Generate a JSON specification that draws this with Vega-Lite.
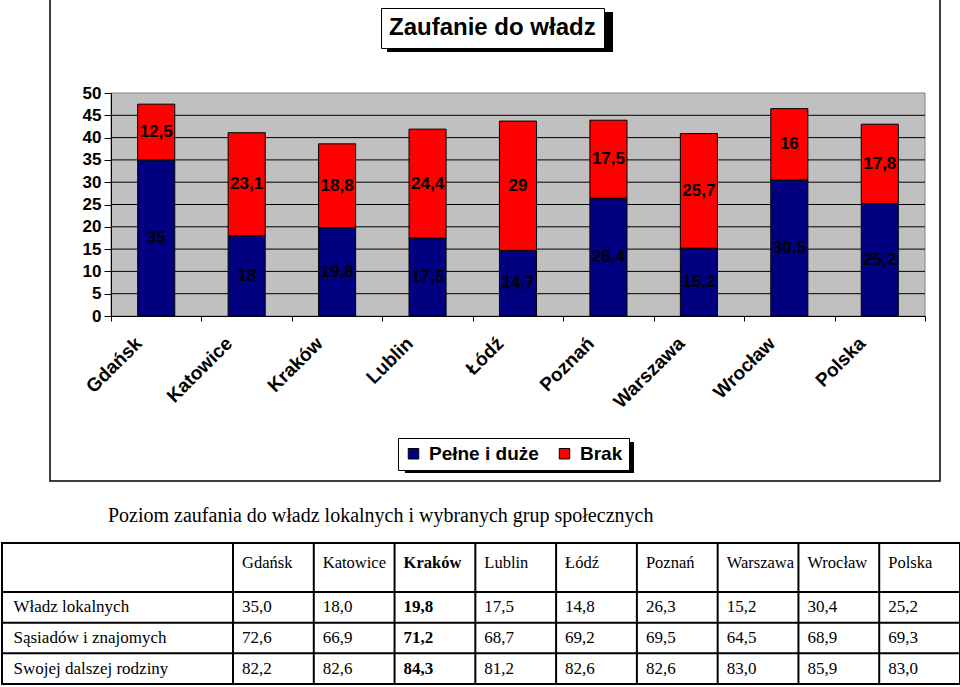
{
  "$schema": "https://vega.github.io/schema/vega-lite/v6.json",
  "padding": {"left": 0, "top": -2, "right": 0, "bottom": 0},
  "background": "white",
  "spacing": 23,
  "config": {
    "font": "Liberation Sans",
    "locale": {"number": {"decimal": ",", "thousands": " ", "grouping": [3], "currency": ["", " zł"]}},
    "view": {"stroke": null}
  },
  "datasets": {
    "bars": [
      {"city": "Gdańsk", "series": "Pełne i duże", "value": 35},
      {"city": "Gdańsk", "series": "Brak", "value": 12.5},
      {"city": "Katowice", "series": "Pełne i duże", "value": 18},
      {"city": "Katowice", "series": "Brak", "value": 23.1},
      {"city": "Kraków", "series": "Pełne i duże", "value": 19.8},
      {"city": "Kraków", "series": "Brak", "value": 18.8},
      {"city": "Lublin", "series": "Pełne i duże", "value": 17.5},
      {"city": "Lublin", "series": "Brak", "value": 24.4},
      {"city": "Łódź", "series": "Pełne i duże", "value": 14.7},
      {"city": "Łódź", "series": "Brak", "value": 29},
      {"city": "Poznań", "series": "Pełne i duże", "value": 26.4},
      {"city": "Poznań", "series": "Brak", "value": 17.5},
      {"city": "Warszawa", "series": "Pełne i duże", "value": 15.2},
      {"city": "Warszawa", "series": "Brak", "value": 25.7},
      {"city": "Wrocław", "series": "Pełne i duże", "value": 30.5},
      {"city": "Wrocław", "series": "Brak", "value": 16},
      {"city": "Polska", "series": "Pełne i duże", "value": 25.2},
      {"city": "Polska", "series": "Brak", "value": 17.8}
    ],
    "grid": [{"v": 5}, {"v": 10}, {"v": 15}, {"v": 20}, {"v": 25}, {"v": 30}, {"v": 35}, {"v": 40}, {"v": 45}],
    "table": [
      {"group": "Władz lokalnych", "city": "Gdańsk", "value": 35.0},
      {"group": "Władz lokalnych", "city": "Katowice", "value": 18.0},
      {"group": "Władz lokalnych", "city": "Kraków", "value": 19.8},
      {"group": "Władz lokalnych", "city": "Lublin", "value": 17.5},
      {"group": "Władz lokalnych", "city": "Łódź", "value": 14.8},
      {"group": "Władz lokalnych", "city": "Poznań", "value": 26.3},
      {"group": "Władz lokalnych", "city": "Warszawa", "value": 15.2},
      {"group": "Władz lokalnych", "city": "Wrocław", "value": 30.4},
      {"group": "Władz lokalnych", "city": "Polska", "value": 25.2},
      {"group": "Sąsiadów i znajomych", "city": "Gdańsk", "value": 72.6},
      {"group": "Sąsiadów i znajomych", "city": "Katowice", "value": 66.9},
      {"group": "Sąsiadów i znajomych", "city": "Kraków", "value": 71.2},
      {"group": "Sąsiadów i znajomych", "city": "Lublin", "value": 68.7},
      {"group": "Sąsiadów i znajomych", "city": "Łódź", "value": 69.2},
      {"group": "Sąsiadów i znajomych", "city": "Poznań", "value": 69.5},
      {"group": "Sąsiadów i znajomych", "city": "Warszawa", "value": 64.5},
      {"group": "Sąsiadów i znajomych", "city": "Wrocław", "value": 68.9},
      {"group": "Sąsiadów i znajomych", "city": "Polska", "value": 69.3},
      {"group": "Swojej dalszej rodziny", "city": "Gdańsk", "value": 82.2},
      {"group": "Swojej dalszej rodziny", "city": "Katowice", "value": 82.6},
      {"group": "Swojej dalszej rodziny", "city": "Kraków", "value": 84.3},
      {"group": "Swojej dalszej rodziny", "city": "Lublin", "value": 81.2},
      {"group": "Swojej dalszej rodziny", "city": "Łódź", "value": 82.6},
      {"group": "Swojej dalszej rodziny", "city": "Poznań", "value": 82.6},
      {"group": "Swojej dalszej rodziny", "city": "Warszawa", "value": 83.0},
      {"group": "Swojej dalszej rodziny", "city": "Wrocław", "value": 85.9},
      {"group": "Swojej dalszej rodziny", "city": "Polska", "value": 83.0}
    ]
  },
  "vconcat": [
    {
      "spacing": 0,
      "hconcat": [
        {
          "width": 40, "height": 480,
          "data": {"values": []},
          "mark": "point",
          "view": {"stroke": null, "fill": "white"}
        },
        {
          "width": 890, "height": 482,
          "view": {"stroke": "black", "strokeWidth": 1.5},
          "resolve": {"scale": {"x": "independent"}},
          "layer": [
            {
              "data": {"values": [{}]},
              "mark": {"type": "rect", "fill": "#c0c0c0", "stroke": "#808080", "strokeWidth": 1},
              "encoding": {
                "x": {"datum": 0, "type": "quantitative", "scale": {"domain": [0, 1], "range": [61, 875]}, "axis": null},
                "x2": {"datum": 1},
                "y": {
                  "datum": 0, "type": "quantitative",
                  "scale": {"domain": [0, 50], "range": [317, 94], "nice": false},
                  "axis": {
                    "orient": "left", "offset": -61, "title": null, "values": [0, 5, 10, 15, 20, 25, 30, 35, 40, 45, 50],
                    "tickSize": 7, "tickColor": "black", "domainColor": "black", "grid": false, "zindex": 1,
                    "labelPadding": 3, "labelFont": "Liberation Sans", "labelFontSize": 17, "labelFontWeight": "bold", "labelColor": "black"
                  }
                },
                "y2": {"datum": 50}
              }
            },
            {
              "data": {"values": [{}]},
              "mark": {"type": "point", "filled": true, "opacity": 0, "color": "black"},
              "encoding": {
                "x": {"datum": 0, "type": "quantitative", "scale": {"domain": [0, 1], "range": [61, 875]}, "axis": null},
                "y": {
                  "datum": 0, "type": "quantitative",
                  "scale": {"domain": [0, 50], "range": [317, 94], "nice": false},
                  "axis": {
                    "orient": "left", "offset": -61, "title": null, "values": [0, 5, 10, 15, 20, 25, 30, 35, 40, 45, 50],
                    "tickSize": 7, "tickColor": "black", "domainColor": "black", "grid": false, "zindex": 1,
                    "labelPadding": 3, "labelFont": "Liberation Sans", "labelFontSize": 17, "labelFontWeight": "bold", "labelColor": "black"
                  }
                },
                "fill": {
                  "datum": "cień tytułu",
                  "scale": {"range": ["black"]},
                  "legend": {
                    "orient": "none", "legendX": 385, "legendY": 13, "title": null, "zindex": 0,
                    "symbolType": "M-1,-0.177H1V0.177H-1Z", "symbolSize": 51076, "clipHeight": 40,
                    "symbolOpacity": 1, "symbolStrokeWidth": 0, "symbolOffset": 0,
                    "labelExpr": "''", "labelFontSize": 1, "labelOffset": 0, "padding": 0
                  }
                },
                "stroke": {
                  "datum": "cień legendy",
                  "scale": {"range": ["black"]},
                  "legend": {
                    "orient": "none", "legendX": 403, "legendY": 443, "title": null, "zindex": 0,
                    "symbolType": "M-1,-0.1354H1V0.1354H-1Z", "symbolSize": 52441, "clipHeight": 31,
                    "symbolOpacity": 1, "symbolStrokeWidth": 0, "symbolFillColor": "black", "symbolOffset": 0,
                    "labelExpr": "''", "labelFontSize": 1, "labelOffset": 0, "padding": 0
                  }
                }
              }
            },
            {
              "data": {"values": [{}]},
              "mark": {"type": "point", "opacity": 0},
              "encoding": {
                "x": {"datum": 0, "type": "quantitative", "scale": {"domain": [0, 1], "range": [61, 875]}, "axis": null},
                "y": {
                  "datum": 0, "type": "quantitative",
                  "scale": {"domain": [0, 50], "range": [317, 94], "nice": false},
                  "axis": {
                    "orient": "left", "offset": -61, "title": null, "values": [0, 5, 10, 15, 20, 25, 30, 35, 40, 45, 50],
                    "tickSize": 7, "tickColor": "black", "domainColor": "black", "grid": false, "zindex": 1,
                    "labelPadding": 3, "labelFont": "Liberation Sans", "labelFontSize": 17, "labelFontWeight": "bold", "labelColor": "black"
                  }
                },
                "shape": {
                  "datum": "Zaufanie do władz",
                  "legend": {
                    "orient": "none", "legendX": 379, "legendY": 9, "title": null, "zindex": 1,
                    "symbolSize": 1, "symbolOpacity": 0, "symbolStrokeWidth": 0, "labelOffset": -24, "labelLimit": 500,
                    "labelFont": "Liberation Sans", "labelFontSize": 24, "labelFontWeight": "bold", "labelColor": "black",
                    "padding": 8, "strokeColor": "black", "fillColor": "white"
                  }
                }
              }
            },
            {
              "data": {"name": "grid"},
              "mark": {"type": "rule", "color": "black", "strokeWidth": 1},
              "encoding": {
                "x": {"datum": 0, "type": "quantitative", "scale": {"domain": [0, 1], "range": [61, 875]}, "axis": null},
                "x2": {"datum": 1},
                "y": {
                  "field": "v", "type": "quantitative",
                  "scale": {"domain": [0, 50], "range": [317, 94], "nice": false},
                  "axis": {
                    "orient": "left", "offset": -61, "title": null, "values": [0, 5, 10, 15, 20, 25, 30, 35, 40, 45, 50],
                    "tickSize": 7, "tickColor": "black", "domainColor": "black", "grid": false, "zindex": 1,
                    "labelPadding": 3, "labelFont": "Liberation Sans", "labelFontSize": 17, "labelFontWeight": "bold", "labelColor": "black"
                  }
                }
              }
            },
            {
              "data": {"name": "bars"},
              "transform": [
                {"stack": "value", "groupby": ["city"], "sort": [{"field": "series", "order": "descending"}], "as": ["v0", "v1"]}
              ],
              "mark": {"type": "bar", "width": {"band": 0.41}, "stroke": "black", "strokeWidth": 1},
              "encoding": {
                "x": {
                  "field": "city", "type": "nominal",
                  "scale": {"type": "band", "domain": ["Gdańsk", "Katowice", "Kraków", "Lublin", "Łódź", "Poznań", "Warszawa", "Wrocław", "Polska"], "range": [61, 875], "paddingInner": 0, "paddingOuter": 0},
                  "axis": {
                    "orient": "bottom", "offset": -165, "title": null, "tickBand": "extent", "tickSize": 5,
                    "tickColor": "black", "domainColor": "black", "grid": false, "zindex": 1,
                    "labelAngle": -45, "labelAlign": "right", "labelBaseline": "middle", "labelPadding": 19, "labelOffset": -18,
                    "labelFont": "Liberation Sans", "labelFontSize": 19, "labelFontWeight": "bold", "labelColor": "black", "labelOverlap": false
                  }
                },
                "y": {
                  "field": "v0", "type": "quantitative",
                  "scale": {"domain": [0, 50], "range": [317, 94], "nice": false},
                  "axis": {
                    "orient": "left", "offset": -61, "title": null, "values": [0, 5, 10, 15, 20, 25, 30, 35, 40, 45, 50],
                    "tickSize": 7, "tickColor": "black", "domainColor": "black", "grid": false, "zindex": 1,
                    "labelPadding": 3, "labelFont": "Liberation Sans", "labelFontSize": 17, "labelFontWeight": "bold", "labelColor": "black"
                  }
                },
                "y2": {"field": "v1"},
                "color": {
                  "field": "series", "type": "nominal",
                  "scale": {"domain": ["Pełne i duże", "Brak"], "range": ["#000080", "#ff0000"]},
                  "legend": {
                    "orient": "none", "legendX": 396, "legendY": 439, "direction": "horizontal", "title": null, "zindex": 1,
                    "symbolType": "square", "symbolSize": 110, "symbolStrokeColor": "black", "symbolStrokeWidth": 1,
                    "labelFont": "Liberation Sans", "labelFontSize": 19, "labelFontWeight": "bold", "labelColor": "black",
                    "labelOffset": 6, "columnPadding": 16, "padding": 6, "strokeColor": "black", "fillColor": "white"
                  }
                }
              }
            },
            {
              "data": {"name": "bars"},
              "transform": [
                {"stack": "value", "groupby": ["city"], "sort": [{"field": "series", "order": "descending"}], "as": ["v0", "v1"]},
                {"calculate": "(datum.v0 + datum.v1) / 2", "as": "mid"}
              ],
              "mark": {"type": "text", "font": "Liberation Sans", "fontSize": 17, "fontWeight": "bold", "color": "black", "baseline": "middle"},
              "encoding": {
                "x": {
                  "field": "city", "type": "nominal",
                  "scale": {"type": "band", "domain": ["Gdańsk", "Katowice", "Kraków", "Lublin", "Łódź", "Poznań", "Warszawa", "Wrocław", "Polska"], "range": [61, 875], "paddingInner": 0, "paddingOuter": 0},
                  "axis": null
                },
                "y": {
                  "field": "mid", "type": "quantitative",
                  "scale": {"domain": [0, 50], "range": [317, 94], "nice": false},
                  "axis": {
                    "orient": "left", "offset": -61, "title": null, "values": [0, 5, 10, 15, 20, 25, 30, 35, 40, 45, 50],
                    "tickSize": 7, "tickColor": "black", "domainColor": "black", "grid": false, "zindex": 1,
                    "labelPadding": 3, "labelFont": "Liberation Sans", "labelFontSize": 17, "labelFontWeight": "bold", "labelColor": "black"
                  }
                },
                "text": {"field": "value", "type": "quantitative", "format": "~g"}
              }
            }
          ]
        }
      ]
    },
    {
      "width": 958, "height": 141,
      "data": {"name": "table"},
      "view": {"stroke": "black", "strokeWidth": 2},
      "title": {
        "text": "Poziom zaufania do władz lokalnych i wybranych grup społecznych",
        "anchor": "start", "frame": "group", "dx": 106, "offset": 0, "baseline": "alphabetic",
        "font": "Liberation Serif", "fontSize": 20, "fontWeight": "normal", "color": "black"
      },
      "layer": [
        {
          "transform": [{"filter": "datum.group === 'Władz lokalnych'"}],
          "mark": {"type": "rule", "color": "black", "strokeWidth": 2},
          "encoding": {
            "x": {
              "field": "city", "type": "nominal", "bandPosition": 0,
              "scale": {"type": "band", "domain": ["Gdańsk", "Katowice", "Kraków", "Lublin", "Łódź", "Poznań", "Warszawa", "Wrocław", "Polska"], "range": [231, 958], "paddingInner": 0, "paddingOuter": 0},
              "axis": {
                "orient": "top", "title": null, "domain": false, "ticks": false, "tickSize": 0, "grid": false,
                "labelAngle": 0, "labelAlign": "left", "labelBaseline": "top", "labelOffset": -31.4, "labelPadding": -11,
                "labelFont": "Liberation Serif", "labelFontSize": 16.5, "labelColor": "black", "labelOverlap": false,
                "labelFontWeight": {"condition": {"test": "datum.value === 'Kraków'", "value": "bold"}, "value": "normal"}
              }
            }
          }
        },
        {
          "transform": [{"filter": "datum.city === 'Gdańsk'"}],
          "mark": {"type": "rule", "color": "black", "strokeWidth": 2},
          "encoding": {
            "y": {
              "field": "group", "type": "nominal", "bandPosition": 0,
              "scale": {"type": "band", "domain": ["Władz lokalnych", "Sąsiadów i znajomych", "Swojej dalszej rodziny"], "range": [49, 141], "paddingInner": 0, "paddingOuter": 0},
              "axis": {
                "orient": "left", "title": null, "domain": false, "ticks": false, "tickSize": 0, "grid": false,
                "labelAlign": "left", "labelBaseline": "middle", "labelPadding": -11, "labelLimit": 400,
                "labelFont": "Liberation Serif", "labelFontSize": 17, "labelColor": "black"
              }
            }
          }
        },
        {
          "transform": [{"filter": "datum.city !== 'Kraków'"}],
          "mark": {"type": "text", "align": "left", "dx": 9, "baseline": "middle", "font": "Liberation Serif", "fontSize": 17, "color": "black"},
          "encoding": {
            "x": {
              "field": "city", "type": "nominal", "bandPosition": 0,
              "scale": {"type": "band", "domain": ["Gdańsk", "Katowice", "Kraków", "Lublin", "Łódź", "Poznań", "Warszawa", "Wrocław", "Polska"], "range": [231, 958], "paddingInner": 0, "paddingOuter": 0},
              "axis": {
                "orient": "top", "title": null, "domain": false, "ticks": false, "tickSize": 0, "grid": false,
                "labelAngle": 0, "labelAlign": "left", "labelBaseline": "top", "labelOffset": -31.4, "labelPadding": -11,
                "labelFont": "Liberation Serif", "labelFontSize": 16.5, "labelColor": "black", "labelOverlap": false,
                "labelFontWeight": {"condition": {"test": "datum.value === 'Kraków'", "value": "bold"}, "value": "normal"}
              }
            },
            "y": {
              "field": "group", "type": "nominal",
              "scale": {"type": "band", "domain": ["Władz lokalnych", "Sąsiadów i znajomych", "Swojej dalszej rodziny"], "range": [49, 141], "paddingInner": 0, "paddingOuter": 0},
              "axis": {
                "orient": "left", "title": null, "domain": false, "ticks": false, "tickSize": 0, "grid": false,
                "labelAlign": "left", "labelBaseline": "middle", "labelPadding": -11, "labelLimit": 400,
                "labelFont": "Liberation Serif", "labelFontSize": 17, "labelColor": "black"
              }
            },
            "text": {"field": "value", "type": "quantitative", "format": ".1f"}
          }
        },
        {
          "transform": [{"filter": "datum.city === 'Kraków'"}],
          "mark": {"type": "text", "align": "left", "dx": 9, "baseline": "middle", "font": "Liberation Serif", "fontSize": 17, "fontWeight": "bold", "color": "black"},
          "encoding": {
            "x": {
              "field": "city", "type": "nominal", "bandPosition": 0,
              "scale": {"type": "band", "domain": ["Gdańsk", "Katowice", "Kraków", "Lublin", "Łódź", "Poznań", "Warszawa", "Wrocław", "Polska"], "range": [231, 958], "paddingInner": 0, "paddingOuter": 0},
              "axis": {
                "orient": "top", "title": null, "domain": false, "ticks": false, "tickSize": 0, "grid": false,
                "labelAngle": 0, "labelAlign": "left", "labelBaseline": "top", "labelOffset": -31.4, "labelPadding": -11,
                "labelFont": "Liberation Serif", "labelFontSize": 16.5, "labelColor": "black", "labelOverlap": false,
                "labelFontWeight": {"condition": {"test": "datum.value === 'Kraków'", "value": "bold"}, "value": "normal"}
              }
            },
            "y": {
              "field": "group", "type": "nominal",
              "scale": {"type": "band", "domain": ["Władz lokalnych", "Sąsiadów i znajomych", "Swojej dalszej rodziny"], "range": [49, 141], "paddingInner": 0, "paddingOuter": 0},
              "axis": {
                "orient": "left", "title": null, "domain": false, "ticks": false, "tickSize": 0, "grid": false,
                "labelAlign": "left", "labelBaseline": "middle", "labelPadding": -11, "labelLimit": 400,
                "labelFont": "Liberation Serif", "labelFontSize": 17, "labelColor": "black"
              }
            },
            "text": {"field": "value", "type": "quantitative", "format": ".1f"}
          }
        }
      ]
    }
  ]
}
